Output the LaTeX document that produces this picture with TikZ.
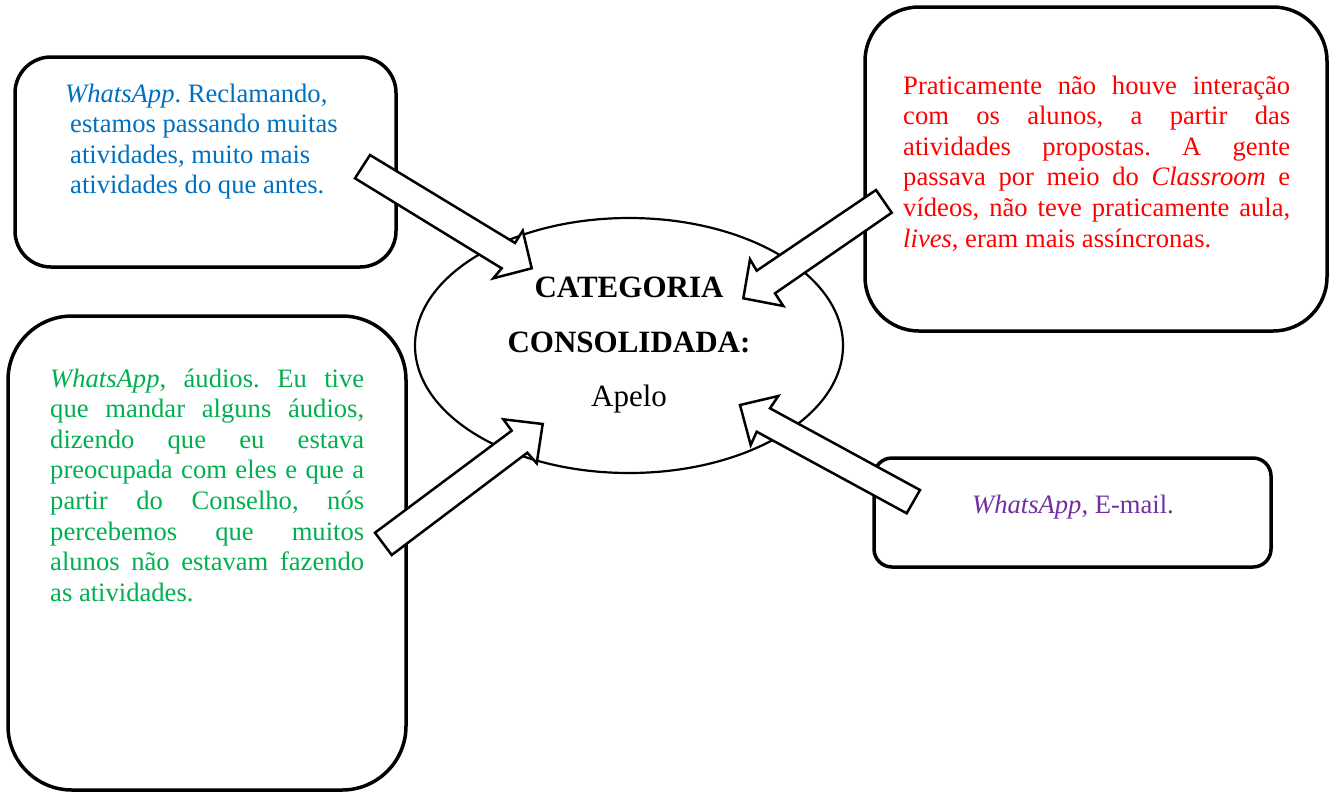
\documentclass[tikz,border=0pt]{standalone}
\usepackage{fontspec}
\setmainfont{Liberation Serif}
\usetikzlibrary{shapes.geometric}
\definecolor{tblue}{HTML}{0070C0}
\definecolor{tred}{HTML}{FF0000}
\definecolor{tgreen}{HTML}{00B050}
\definecolor{tpurple}{HTML}{7030A0}
\frenchspacing
\newcommand{\bodyfont}{\fontsize{26.6}{30.6}\selectfont\frenchspacing}
\newcommand{\catfont}{\fontsize{31}{36}\selectfont}
\newcommand{\jline}[2]{\makebox[#1][s]{#2}\\}
\tikzset{
  roundbox/.style={draw, line width=3.5pt, fill=white, inner sep=0pt},
  blockarrow/.style={draw, line width=2.5pt, fill=white, line join=miter},
  txt/.style={anchor=base west, inner sep=0pt},
}
\begin{document}
\begin{tikzpicture}[x=1pt, y=-1pt]
\useasboundingbox (0,0) rectangle (1332,793);
% boxes
\node[roundbox, minimum width=381pt, minimum height=210pt, rounded corners=36pt] (bluebox) at (205.5,162) {};
\node[roundbox, minimum width=462pt, minimum height=324pt, rounded corners=54pt] (redbox) at (1096,169) {};
\node[roundbox, minimum width=398pt, minimum height=474pt, rounded corners=64pt] (greenbox) at (207,553) {};
\node[roundbox, minimum width=397pt, minimum height=109pt, rounded corners=18pt] (purplebox) at (1072.5,512.5) {};
% ellipse
\node[ellipse, draw, line width=2.2pt, fill=white, inner sep=0pt, minimum width=428pt, minimum height=255pt] (cat) at (629,345.5) {};
% ellipse texts
\node[anchor=base, inner sep=0pt] (cat1) at (629,297) {\catfont\textbf{CATEGORIA}};
\node[anchor=base, inner sep=0pt] (cat2) at (629,352) {\catfont\textbf{CONSOLIDADA:}};
\node[anchor=base, inner sep=0pt] (cat3) at (629,406) {\catfont Apelo};
% blue text
\node[txt, text=tblue] (bluetext) at (65,102) {\parbox[t]{340pt}{\bodyfont
\textit{WhatsApp}. Reclamando,\\
\hspace*{5pt}estamos passando muitas\\
\hspace*{5pt}atividades, muito mais\\
\hspace*{5pt}atividades do que antes.}};
% red text
\node[txt, text=tred] (redtext) at (903,94) {\parbox[t]{387pt}{\bodyfont
\jline{387pt}{Praticamente não houve interação}
\jline{387pt}{com os alunos, a partir das}
\jline{387pt}{atividades propostas. A gente}
\jline{387pt}{passava por meio do \textit{Classroom} e}
\jline{387pt}{vídeos, não teve praticamente aula,}
\textit{lives}, eram mais assíncronas.}};
% green text
\node[txt, text=tgreen] (greentext) at (50,387) {\parbox[t]{314pt}{\bodyfont
\jline{314pt}{\textit{WhatsApp}, áudios. Eu tive}
\jline{314pt}{que mandar alguns áudios,}
\jline{314pt}{dizendo que eu estava}
\jline{314pt}{preocupada com eles e que a}
\jline{314pt}{partir do Conselho, nós}
\jline{314pt}{percebemos que muitos}
\jline{314pt}{alunos não estavam fazendo}
as atividades.}};
% purple text
\node[anchor=base, inner sep=0pt, text=tpurple] (purpletext) at (1073,513) {\bodyfont\textit{WhatsApp}, E-mail.};
% block arrows
\draw[blockarrow] (370,155) -- (515,243) -- (522.7,230.7) -- (531.7,268.3) -- (493.3,278.3) -- (501.7,268.3) -- (355,178.3) -- cycle;
\draw[blockarrow] (876,190) -- (756.7,270.7) -- (750,259.3) -- (743.3,298.3) -- (783.3,306) -- (775,293.3) -- (891.7,212.7) -- cycle;
\draw[blockarrow] (375,532.7) -- (511.7,430.7) -- (503.3,419.3) -- (542.7,424) -- (536.7,463.3) -- (527.3,452.7) -- (391.7,555) -- cycle;
\draw[blockarrow] (920,490) -- (770,408.3) -- (778.3,396) -- (740,405) -- (750.7,445) -- (756.7,431.7) -- (906.7,513.3) -- cycle;
\end{tikzpicture}
\end{document}
